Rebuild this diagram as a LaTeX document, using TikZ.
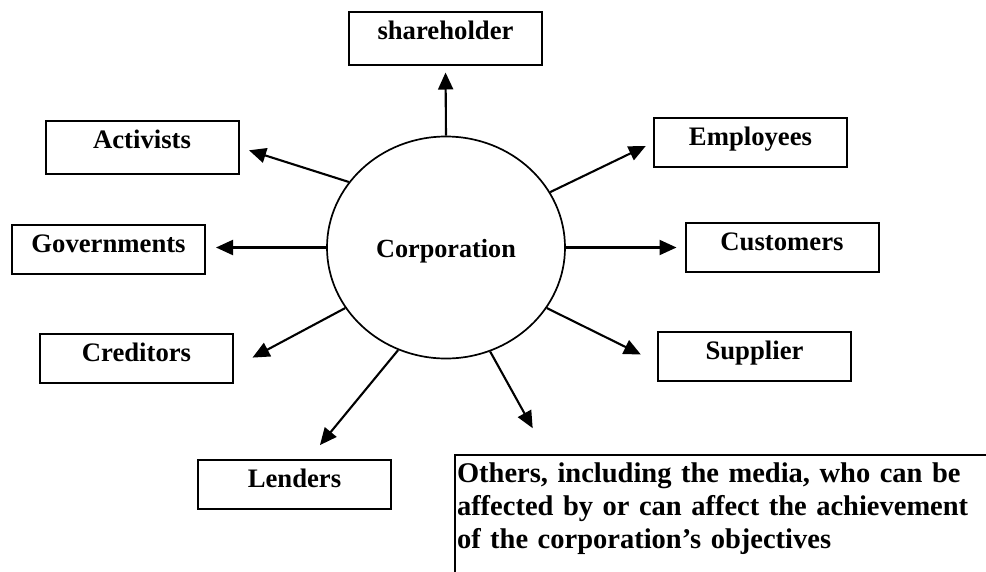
\documentclass[tikz,border=0pt]{standalone}
\usepackage{fontspec}
\setmainfont{Liberation Serif}
\usetikzlibrary{arrows.meta,shapes.geometric}

\begin{document}
\begin{tikzpicture}[x=1pt, y=-1pt,
    font=\fontsize{26.7}{30}\selectfont\bfseries,
    box/.style={draw, line width=2pt, minimum width=193pt, inner xsep=0pt, inner ysep=0pt,
        text height=27.5pt, text depth=21.5pt, anchor=north},
    arr/.style={line width=2.1pt, -{Triangle[length=17pt,width=15pt]}}]
    \useasboundingbox (0,0) rectangle (986,571);
    \clip (0,0) rectangle (986,571);

    % 中心
    \node[ellipse, draw, line width=1.7pt, minimum width=238pt, minimum height=222pt,
        inner sep=0pt, text height=20pt, text depth=0pt,
        font=\fontsize{26.2}{30}\selectfont\bfseries] (corp) at (446,247.5) {Corporation};

    % 四周的方框
    \node[box, text depth=25pt] (share) at (445.5,11) {shareholder};
    \node[box, text depth=25pt] (act) at (142,120) {Activists};
    \node[box] (emp) at (750.5,117) {Employees};
    \node[box] (gov) at (108.5,224) {Governments};
    \node[box] (cust) at (782,222) {Customers};
    \node[box] (cred) at (136.5,333) {Creditors};
    \node[box] (supp) at (754.5,331) {Supplier};
    \node[box] (lend) at (294.5,459) {Lenders};
    \node[draw, line width=2pt, anchor=north west, text width=560pt, align=left,
        inner xsep=2pt, inner ysep=8pt, text depth=150pt,
        font=\fontsize{28.5}{33}\selectfont\bfseries] (others) at (454,454)
        {Others, including the media, who can be\\
         affected by or can affect the achievement\\
         of the corporation’s objectives};

    % 箭头
    \draw[arr, shorten >=7pt] (corp.90) -- (share.south);
    \draw[arr, shorten >=10pt] (corp.146.6) -- (act.east);
    \draw[arr, shorten >=8pt] (corp.28.7) -- (emp.west);
    \draw[arr, shorten >=10pt] (corp.west) -- (corp.west -| gov.east);
    \draw[arr, shorten >=8pt] (corp.east) -- (corp.east -| cust.west);
    \draw[arr, shorten >=21pt] (corp.211.9) -- ([yshift=-9pt]cred.east);
    \draw[arr, shorten >=18pt] (corp.329) -- ([yshift=-6pt]supp.west);
    \draw[arr, shorten >=18pt] (corp.245) -- ([xshift=14pt]lend.north);
    \draw[arr, shorten >=29.5pt] (corp.293.1) -- ([xshift=93pt]others.north west);
\end{tikzpicture}
\end{document}
